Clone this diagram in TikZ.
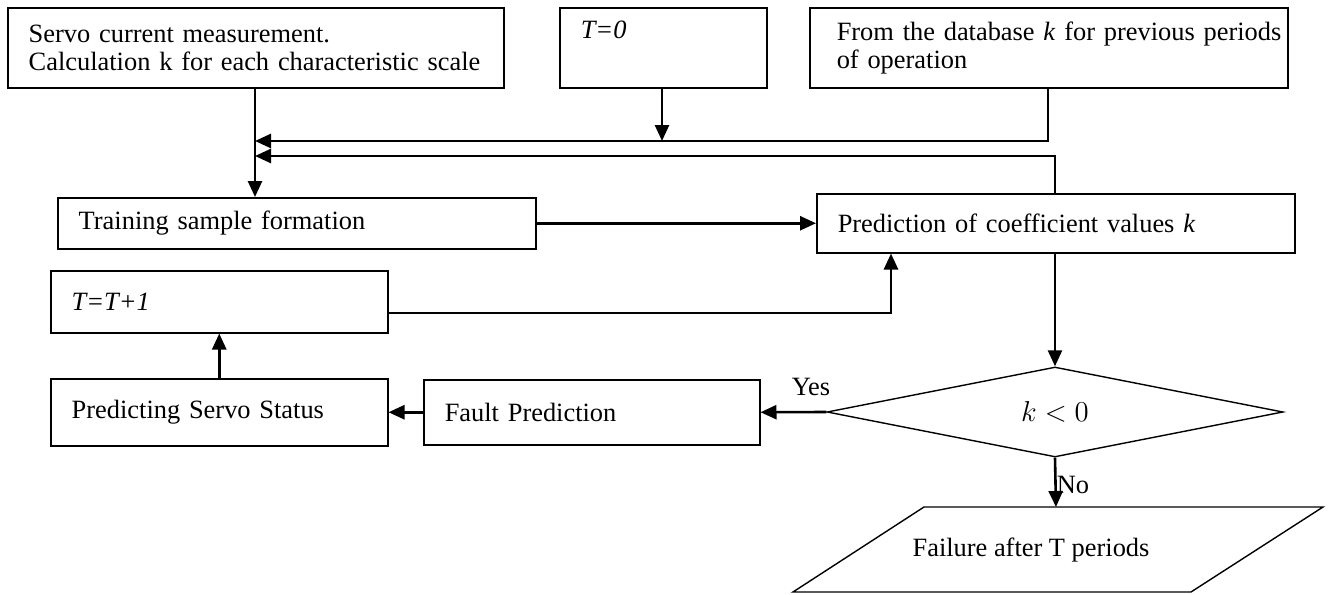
\documentclass[tikz,border=0pt]{standalone}
\usepackage{fontspec}
\setmainfont{Liberation Serif}
\usetikzlibrary{arrows.meta,shapes.geometric}
\begin{document}
\begin{tikzpicture}[x=0.5pt,y=-0.5pt,
  font=\fontsize{13.2}{14}\selectfont,
  box/.style={draw, line width=0.75pt, inner xsep=10.5pt, inner ysep=0pt, align=left, anchor=north west},
  conn/.style={line width=1.3pt, -{Triangle[length=8pt,width=7pt]}},
  shapeline/.style={line width=0.7pt},
  lbl/.style={inner sep=0pt}]
\useasboundingbox (0,0) rectangle (1330,595);
% boxes
\node[box, text width=227pt, minimum height=40pt] (servo) at (7,7)
  {Servo current measurement.\\Calculation k for each characteristic scale};
\node[box, text width=82.5pt, minimum height=40pt] (t0) at (559,7)
  {\textit{T=0}\\\strut};
\node[box, inner xsep=13.5pt, text width=212pt, minimum height=40pt] (db) at (809,7)
  {\mbox{From the database \textit{k} for previous periods}\\of operation};
\node[box, text width=218pt, minimum height=25.5pt] (train) at (57,197)
  {Training sample formation};
\node[box, text width=218pt, minimum height=29.5pt] (pred) at (816,193)
  {Prediction of coefficient values \textit{k}};
\node[box, text width=147.5pt, minimum height=31pt] (tinc) at (50,270)
  {\textit{T=T+1}};
\node[box, text width=147.5pt, minimum height=33.5pt] (status) at (50,378)
  {Predicting Servo Status};
\node[box, text width=147pt, minimum height=32.5pt] (fault) at (423,379)
  {Fault Prediction};
\node[diamond, draw, shapeline, inner sep=0pt, minimum width=228pt, minimum height=45pt] (dia) at (1055,412)
  {\raisebox{-3pt}{\fontsize{14.5}{15}\selectfont$k<0$}};
% output parallelogram
\draw[shapeline] (793,592) -- (924,507) -- (1323,507) -- (1191,592) -- cycle;
\coordinate (failtop) at (1056,507);
\node[lbl] (failtext) at (1031,550) {Failure after T periods};
% helper coordinates
\coordinate (vx) at (255,0);
\coordinate (m1) at (255,141);
\coordinate (m2) at (255,156);
\coordinate (t0x) at (662,141);
\coordinate (dbx) at (1048,0);
\coordinate (px) at (1055,0);
\coordinate (c313) at (891,313);
% connectors
\draw[conn] (servo.south -| vx) -- (train.north -| vx);
\draw[conn] (t0.south -| t0x) -- (t0x);
\draw[conn] (db.south -| dbx) |- (m1);
\draw[conn] (pred.north -| px) |- (m2);
\draw[conn] (train.east) -- (pred.west);
\draw[conn] (tinc.east |- c313) -| (pred.south -| c313);
\draw[conn] (pred.south -| px) -- (dia.north);
\draw[conn] (dia.west) -- (fault.east);
\draw[conn] (fault.west) -- (status.east);
\draw[conn] (status.north) -- (tinc.south);
\draw[conn] (dia.south) -- (failtop);
% labels
\node[lbl] (yes) at (811,387) {Yes};
\node[lbl] (no) at (1073,485) {No};
\end{tikzpicture}
\end{document}
